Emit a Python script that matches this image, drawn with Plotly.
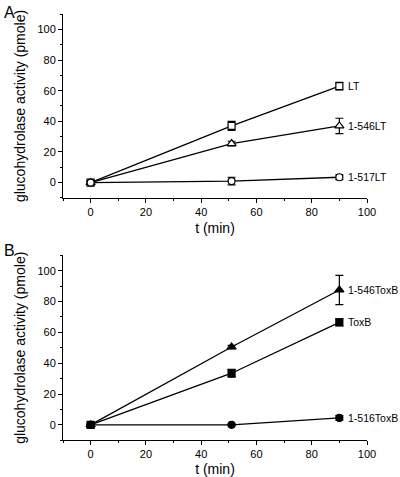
import plotly.graph_objects as go

t = [0, 51, 90]

# Panel A
lt = [0, 37, 63]
lt_err = [1, 3, 2.5]
lt546 = [0, 25.5, 37]
lt546_err = [1, 1.5, 5]
lt517 = [0, 1, 3.5]
lt517_err = [1, 2.5, 1.5]

# Panel B
toxb546 = [0, 50.5, 87.5]
toxb546_err = [0.5, 1, 9.5]
toxb = [0, 33.5, 66.5]
toxb_err = [0.5, 2.5, 2.2]
toxb516 = [0, 0, 4.5]
toxb516_err = [0.5, 0.5, 1.5]

fig = go.Figure()

def add(x, y, err, sym, fill, label, xa, ya):
    fig.add_trace(go.Scatter(
        x=x, y=y, mode="lines+markers",
        line=dict(color="black", width=1.3),
        marker=dict(symbol=sym, size=7 if "triangle" not in sym else 8,
                    color=fill, line=dict(color="black", width=1.2)),
        error_y=dict(type="data", array=err, color="black", thickness=1.2, width=4),
        xaxis=xa, yaxis=ya, showlegend=False, cliponaxis=False))
    fig.add_annotation(x=x[-1], y=y[-1], xref=xa, yref=ya, text=label,
                       showarrow=False, xanchor="left", xshift=7,
                       font=dict(size=10.5, color="black", family="Liberation Sans, Arial"))

add(t, lt, lt_err, "square", "white", "LT", "x", "y")
add(t, lt546, lt546_err, "triangle-up", "white", "1-546LT", "x", "y")
add(t, lt517, lt517_err, "circle", "white", "1-517LT", "x", "y")
add(t, toxb546, toxb546_err, "triangle-up", "black", "1-546ToxB", "x2", "y2")
add(t, toxb, toxb_err, "square", "black", "ToxB", "x2", "y2")
add(t, toxb516, toxb516_err, "circle", "black", "1-516ToxB", "x2", "y2")

font = dict(family="Liberation Sans, Arial", color="black")
xcommon = dict(range=[-10, 100], tickvals=[0, 20, 40, 60, 80, 100], automargin=False,
               ticks="outside", ticklen=4, tickwidth=1, tickcolor="black",
               showline=True, linecolor="black", linewidth=1, showgrid=False,
               zeroline=False, tickfont=dict(size=11, **font),
               minor=dict(ticks="outside", ticklen=2, tickcolor="black", dtick=10, tick0=0),
               title=dict(text="t (min)", font=dict(size=14, **font), standoff=6))
ycommon = dict(range=[-10, 110], tickvals=[0, 20, 40, 60, 80, 100], automargin=False,
               ticks="outside", ticklen=4, tickwidth=1, tickcolor="black",
               showline=True, linecolor="black", linewidth=1, showgrid=False,
               zeroline=False, tickfont=dict(size=11, **font),
               minor=dict(ticks="outside", ticklen=2, tickcolor="black", dtick=10, tick0=0),
               title=dict(text="glucohydrolase activity (pmole)", font=dict(size=14, **font), standoff=8))

fig.update_layout(
    width=400, height=477, margin=dict(l=0, r=0, t=0, b=0, autoexpand=False),
    paper_bgcolor="white", plot_bgcolor="white",
    xaxis=dict(domain=[0.1575, 0.9175], anchor="y", **xcommon),
    yaxis=dict(domain=[0.585, 0.9706], anchor="x", **ycommon),
    xaxis2=dict(domain=[0.1575, 0.9175], anchor="y2", **xcommon),
    yaxis2=dict(domain=[0.077, 0.4648], anchor="x2", **ycommon),
)
fig.add_annotation(x=0.005, y=0.995, xref="paper", yref="paper", text="A", showarrow=False,
                   xanchor="left", yanchor="top", font=dict(size=16, **font))
fig.add_annotation(x=0.005, y=0.497, xref="paper", yref="paper", text="B", showarrow=False,
                   xanchor="left", yanchor="top", font=dict(size=16, **font))

fig.write_html("out.html", config={"displayModeBar": False},
               post_script="document.body.style.margin='0';document.body.style.overflow='hidden';")
